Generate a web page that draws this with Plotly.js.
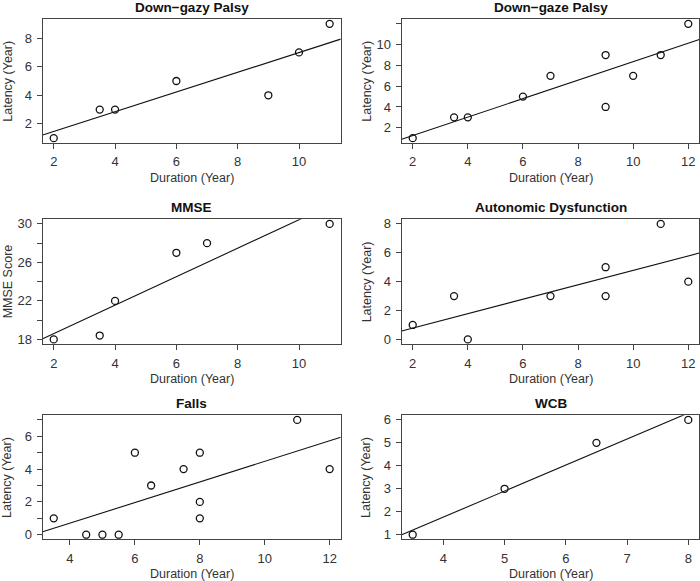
<!DOCTYPE html>
<html>
<head>
<meta charset="utf-8">
<script src="https://cdn.plot.ly/plotly-3.0.1.min.js"></script>
<style>html,body{margin:0;padding:0;background:#fff;}#chart{width:700px;height:581px;}</style>
</head>
<body>
<div id="chart"></div>
<script>
// ---- data ----
const panelTitles = ["Down\u2212gazy Palsy", "Down\u2212gaze Palsy", "MMSE", "Autonomic Dysfunction", "Falls", "WCB"];
const yTitles = ["Latency (Year)", "Latency (Year)", "MMSE Score", "Latency (Year)", "Latency (Year)", "Latency (Year)"];
const xTitle = "Duration (Year)";

const gazyX = [2, 3.5, 4, 6, 9, 10, 11];
const gazyY = [1, 3, 3, 5, 4, 7, 9];

const gazeX = [2, 3.5, 4, 6, 7, 9, 9, 10, 11, 12];
const gazeY = [1, 3, 3, 5, 7, 9, 4, 7, 9, 12];

const mmseX = [2, 3.5, 4, 6, 7, 11];
const mmseY = [18, 18.4, 22, 27, 28, 30];

const autoX = [2, 3.5, 4, 7, 9, 9, 11, 12];
const autoY = [1, 3, 0, 3, 5, 3, 8, 4];

const fallsX = [3.5, 4.5, 5, 5.5, 6, 6.5, 7.5, 8, 8, 8, 11, 12];
const fallsY = [1, 0, 0, 0, 5, 3, 4, 5, 2, 1, 7, 4];

const wcbX = [3.5, 5, 6.5, 8];
const wcbY = [1, 3, 5, 6];

// tick values and labels
const xTicks = [[2,4,6,8,10],[2,4,6,8,10,12],[2,4,6,8,10],[2,4,6,8,10,12],[4,6,8,10,12],[4,5,6,7,8]];
const yTickVals = [[2,4,6,8],[2,4,6,8,10,12],[18,20,22,24,26,28,30],[0,2,4,6,8],[0,1,2,3,4,5,6,7],[1,2,3,4,5,6]];
const yTickText = [["2","4","6","8"],["2","4","6","8","10",""],["18","","22","","26","","30"],["0","2","4","6","8"],["0","","2","","4","","6",""],["1","2","3","4","5","6"]];

const xs = [gazyX, gazeX, mmseX, autoX, fallsX, wcbX];
const ys = [gazyY, gazeY, mmseY, autoY, fallsY, wcbY];

// ---- layout geometry (pixels) ----
const W = 700, H = 581;
const cols = [[42.7, 340.7], [401.7, 699.3]];
const rows = [[19.3, 142.7], [219.3, 344], [415.3, 539.3]];

function rRange(a) {
  const mn = Math.min(...a), mx = Math.max(...a);
  const d = (mx - mn) * 0.04;
  return [mn - d, mx + d];
}
function ols(x, y) {
  const n = x.length;
  const mx = x.reduce((s, v) => s + v, 0) / n;
  const my = y.reduce((s, v) => s + v, 0) / n;
  let sxx = 0, sxy = 0;
  for (let i = 0; i < n; i++) { sxx += (x[i]-mx)*(x[i]-mx); sxy += (x[i]-mx)*(y[i]-my); }
  const b = sxy / sxx;
  return [my - b * mx, b];
}

const font = "Liberation Sans, Arial, Helvetica, sans-serif";
const data = [];
const layout = {
  width: W, height: H,
  margin: {l: 0, r: 0, t: 0, b: 0},
  paper_bgcolor: "#ffffff", plot_bgcolor: "#ffffff",
  showlegend: false,
  font: {family: font, size: 12, color: "#333333"},
  annotations: []
};

for (let i = 0; i < 6; i++) {
  const r = Math.floor(i / 2), c = i % 2;
  const [x0, x1] = cols[c], [y0, y1] = rows[r];
  const k = i === 0 ? "" : String(i + 1);
  const xr = rRange(xs[i]), yr = rRange(ys[i]);
  const [a, b] = ols(xs[i], ys[i]);

  data.push({
    type: "scatter", mode: "markers", x: xs[i], y: ys[i],
    xaxis: "x" + k, yaxis: "y" + k,
    marker: {symbol: "circle-open", size: 7, color: "#111111", line: {width: 1.3, color: "#111111"}},
    hoverinfo: "x+y"
  });
  data.push({
    type: "scatter", mode: "lines", x: [xr[0], xr[1]], y: [a + b * xr[0], a + b * xr[1]],
    xaxis: "x" + k, yaxis: "y" + k,
    line: {color: "#111111", width: 1.1}, hoverinfo: "skip"
  });

  const common = {
    showgrid: false, zeroline: false, showline: true, mirror: true,
    linecolor: "#444444", linewidth: 1.2,
    ticks: "outside", ticklen: 5, tickwidth: 1, tickcolor: "#444444",
    tickfont: {family: font, size: 13, color: "#333333"},
    ticklabelstandoff: 2,
    fixedrange: true
  };
  layout["xaxis" + k] = Object.assign({}, common, {
    domain: [x0 / W, x1 / W], range: xr, anchor: "y" + k,
    tickmode: "array", tickvals: xTicks[i], ticktext: xTicks[i].map(String)
  });
  layout["yaxis" + k] = Object.assign({}, common, {
    domain: [1 - y1 / H, 1 - y0 / H], range: yr, anchor: "x" + k,
    tickmode: "array", tickvals: yTickVals[i], ticktext: yTickText[i]
  });

  // panel title
  layout.annotations.push({
    xref: "paper", yref: "paper", x: ((x0 + x1) / 2) / W, y: 1 - (y0 - 12) / H,
    text: "<b>" + panelTitles[i] + "</b>", showarrow: false,
    xanchor: "center", yanchor: "middle",
    font: {family: font, size: 13.5, color: "#111111"}
  });
  // x title
  layout.annotations.push({
    xref: "paper", yref: "paper", x: ((x0 + x1) / 2) / W, y: 1 - (y1 + 35) / H,
    text: xTitle, showarrow: false, xanchor: "center", yanchor: "middle",
    font: {family: font, size: 12.5, color: "#333333"}
  });
  // y title
  layout.annotations.push({
    xref: "paper", yref: "paper", x: (x0 - 35) / W, y: 1 - ((y0 + y1) / 2) / H,
    text: yTitles[i], showarrow: false, textangle: -90, xanchor: "center", yanchor: "middle",
    font: {family: font, size: 12.5, color: "#333333"}
  });
}

Plotly.newPlot("chart", data, layout, {displayModeBar: false, staticPlot: false});
</script>
</body>
</html>
